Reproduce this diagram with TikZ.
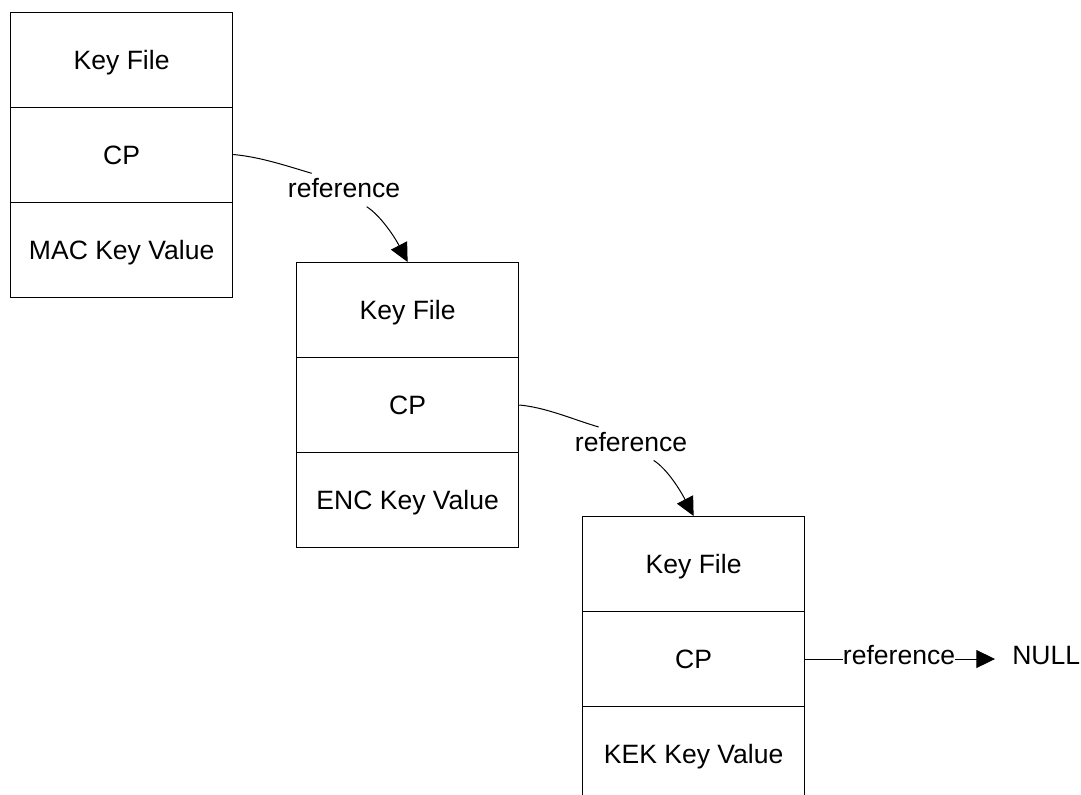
\documentclass[tikz,border=0pt]{standalone}
\usepackage{fontspec}
\setmainfont{Liberation Sans}
\usetikzlibrary{arrows.meta,calc}

\begin{document}
\begin{tikzpicture}[x=0.75pt,y=-0.75pt,
  font=\fontsize{19.9pt}{24pt}\selectfont,
  cell/.style={draw=black, line width=0.75pt, anchor=north west,
    minimum width=166.7pt, minimum height=71.25pt, inner sep=0pt,
    text height=14.25pt, text depth=0pt},
  lbl/.style={inner sep=0pt},
  link/.style={line width=0.75pt, black},
  tip/.style={-{Triangle[length=14pt,width=13.5pt]}}]

\useasboundingbox (0,0) rectangle (1081,794);

% first key file record
\node[cell] (kf1)  at (10,11.5)  {Key File};
\node[cell] (cp1)  at (10,106.5) {CP};
\node[cell] (val1) at (10,201.5) {MAC Key Value};

% second key file record
\node[cell] (kf2)  at (296,262) {Key File};
\node[cell] (cp2)  at (296,357) {CP};
\node[cell] (val2) at (296,452) {ENC Key Value};

% third key file record
\node[cell] (kf3)  at (582,516) {Key File};
\node[cell] (cp3)  at (582,611) {CP};
\node[cell] (val3) at (582,706) {KEK Key Value};

% reference labels
\node[lbl, anchor=base] (ref1) at (344,197.3) {reference};
\node[lbl, anchor=base] (ref2) at (631,451)   {reference};
\node[lbl, anchor=base] (ref3) at (899,664.5) {reference};
\node[inner ysep=0pt, inner xsep=12.75pt, anchor=base west] (nul) at (995,664.5) {NULL};

% CP -> next key file
\draw[link] (cp1.east) .. controls +(27,2.5) and +(-27,-8) .. ($(ref1.base)+(-32.3,-24)$);
\draw[link, tip] ($(ref1.base)+(22.7,9.4)$) .. controls +(14,9) and +(-13,-25) .. (kf2.north);

\draw[link] (cp2.east) .. controls +(27,2.5) and +(-27,-8) .. ($(ref2.base)+(-32.3,-24)$);
\draw[link, tip] ($(ref2.base)+(22.7,9.4)$) .. controls +(14,9) and +(-13,-25) .. (kf3.north);

% last CP -> NULL
\draw[link] (cp3.east) -- (cp3.east -| ref3.west);
\draw[link, tip] (cp3.east -| ref3.east) -- (cp3.east -| nul.west);

\end{tikzpicture}
\end{document}
